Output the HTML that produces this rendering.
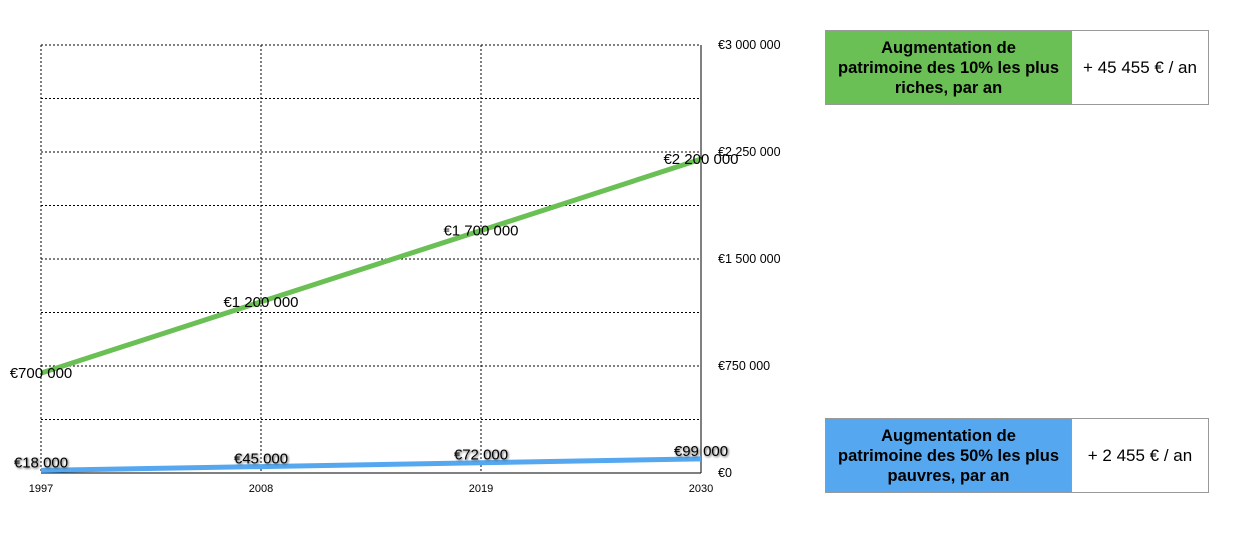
<!DOCTYPE html>
<html><head><meta charset="utf-8"><style>
body{margin:0;background:#fff;font-family:"Liberation Sans",sans-serif;}
.box{position:absolute;display:flex;border:1px solid #999;box-sizing:border-box;}
.lab{width:245px;display:flex;align-items:center;justify-content:center;text-align:center;font-weight:bold;font-size:16.5px;line-height:20px;border-right:1px solid #999;white-space:nowrap;}
.val{flex:1;display:flex;align-items:center;justify-content:center;font-size:17px;}
</style></head><body>
<svg id="chart" width="1242" height="534" style="position:absolute;left:0;top:0"></svg>
<div class="box" style="left:825px;top:30px;width:384px;height:75px">
<div class="lab" style="background:#6abf55">Augmentation de<br>patrimoine des 10% les plus<br>riches, par an</div>
<div class="val">+ 45 455 € / an</div></div>
<div class="box" style="left:825px;top:418px;width:384px;height:75px">
<div class="lab" style="background:#55a8f0">Augmentation de<br>patrimoine des 50% les plus<br>pauvres, par an</div>
<div class="val">+ 2 455 € / an</div></div>
<script>
const years=[1997,2008,2019,2030];
const richValues=[700000,1200000,1700000,2200000];
const poorValues=[18000,45000,72000,99000];
const richLabels=["€700 000","€1 200 000","€1 700 000","€2 200 000"];
const poorLabels=["€18 000","€45 000","€72 000","€99 000"];
const yTicks=[0,750000,1500000,2250000,3000000];
const yTickLabels=["€0","€750 000","€1 500 000","€2 250 000","€3 000 000"];
const NS="http://www.w3.org/2000/svg",svg=document.getElementById('chart');
const X0=41,X1=701,Y0=473,Y1=45,YMAX=3000000;
const x=v=>X0+(v-years[0])/(years[years.length-1]-years[0])*(X1-X0);
const y=v=>Y0-v/YMAX*(Y0-Y1);
function mk(t,a,n){const e=document.createElementNS(NS,t);for(const k in a)e.setAttribute(k,a[k]);


svg.appendChild(e);return e;}
for(let i=1;i<=8;i++){const v=YMAX*i/8;mk('line',{x1:X0,x2:X1,y1:y(v),y2:y(v),stroke:'#000','stroke-dasharray':'2,2'},'gridline-h');}
years.forEach((yr,i)=>{if(i<years.length-1)mk('line',{x1:x(yr),x2:x(yr),y1:Y1,y2:Y0,stroke:'#000','stroke-dasharray':'2,2'},'gridline-v');
const t=mk('text',{x:x(yr),y:492,'font-size':11,'text-anchor':'middle'},'x-tick-label');t.textContent=yr;});
mk('line',{x1:X1,x2:X1,y1:Y1,y2:Y0,stroke:'#000'},'y-axis');
mk('line',{x1:X0,x2:X1,y1:Y0,y2:Y0,stroke:'#000'},'x-axis');
yTicks.forEach((v,i)=>{const t=mk('text',{x:718,y:y(v)+4,'font-size':12.5},'y-tick-label');t.textContent=yTickLabels[i];});
mk('polyline',{points:years.map((yr,i)=>x(yr)+','+y(richValues[i])).join(' '),fill:'none',stroke:'#6abf55','stroke-width':5},'top10-line');
mk('polyline',{points:years.map((yr,i)=>x(yr)+','+y(poorValues[i])).join(' '),fill:'none',stroke:'#55a8f0','stroke-width':5},'bottom50-line');
years.forEach((yr,i)=>{const t=mk('text',{x:x(yr),y:y(richValues[i])+5,'font-size':15,'text-anchor':'middle'},'top10-value-label');t.textContent=richLabels[i];
const u=mk('text',{x:x(yr),y:y(poorValues[i])-3,'font-size':15,'text-anchor':'middle',style:'text-shadow:1px 1px 2px #555'},'bottom50-value-label');u.textContent=poorLabels[i];});
</script>
</body></html>
